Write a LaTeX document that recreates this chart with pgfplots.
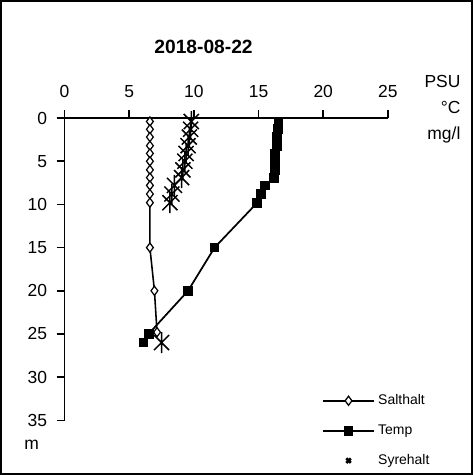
\documentclass[border=0pt]{standalone}
\usepackage{pgfplots}
\pgfplotsset{compat=1.18}
\usepackage{fontspec}
\setmainfont{Liberation Sans}
% asterisk as drawn in the reference: an X with a vertical bar
\pgfdeclareplotmark{xstar}{%
  \pgfpathmoveto{\pgfqpoint{-0.72\pgfplotmarksize}{-0.72\pgfplotmarksize}}%
  \pgfpathlineto{\pgfqpoint{0.72\pgfplotmarksize}{0.72\pgfplotmarksize}}%
  \pgfpathmoveto{\pgfqpoint{-0.72\pgfplotmarksize}{0.72\pgfplotmarksize}}%
  \pgfpathlineto{\pgfqpoint{0.72\pgfplotmarksize}{-0.72\pgfplotmarksize}}%
  \pgfpathmoveto{\pgfqpoint{0pt}{-\pgfplotmarksize}}%
  \pgfpathlineto{\pgfqpoint{0pt}{\pgfplotmarksize}}%
  \pgfusepathqstroke}
\begin{document}
\begin{tikzpicture}[x=0.58pt,y=0.58pt]
% frame (px coordinates relative to the lower-left axis corner)
\draw[line width=1.2pt] (-62.7,414) rectangle (402.3,-53);
\begin{axis}[
    at={(0,0)}, anchor=south west,
    scale only axis,
    width=185.2pt, height=173.1pt,
    xmin=0, xmax=25, ymin=0, ymax=35,
    y dir=reverse,
    axis x line*=top, axis y line*=left,
    axis line style={line width=0.9pt},
    tick style={line width=0.9pt, black},
    tick align=outside,
    major tick length=4.5pt,
    xtick={0,5,...,25}, ytick={0,5,...,35},
    xticklabel style={yshift=3.5pt},
    yticklabel style={xshift=-2pt},
    font=\fontsize{10}{12}\selectfont,
    /pgf/number format/assume math mode=true,
    clip=false,
    legend style={draw=none, fill=none, font=\fontsize{8}{10}\selectfont,
        at={(0.78,0.11)}, anchor=north west, row sep=6pt,
        legend cell align=left},
    legend image code/.code={%
        \draw[mark repeat=2,mark phase=2,#1]
        plot coordinates {(0pt,0pt) (14.5pt,0pt) (29pt,0pt)};},
]
\addplot[black, line width=0.9pt, mark=diamond*, mark size=2.6pt,
    mark options={fill=white, line width=0.7pt}] coordinates {
(6.6,0.4) (6.6,1.3) (6.6,2.2) (6.6,3.2) (6.6,4.1) (6.6,5.0)
(6.6,6.0) (6.6,6.9) (6.6,7.8) (6.6,8.8) (6.6,9.8)
(6.6,15) (6.95,20) (7.15,24.8)};
\addlegendentry{Salthalt}
\addplot[black, line width=1pt, mark=square*, mark size=2.3pt] coordinates {
(16.55,0.4) (16.5,1.3) (16.45,2.2) (16.4,3.2) (16.3,4.1) (16.25,5.0)
(16.25,6.0) (16.2,6.9) (15.5,7.8) (15.2,8.8) (14.9,9.8)
(11.6,15) (9.55,20) (6.5,25) (6.1,26)};
\addlegendentry{Temp}
\addplot[black, only marks, mark=xstar, mark size=6pt,
    mark options={line width=0.85pt},
    legend image post style={mark=x, mark size=1.8pt,
        mark options={line width=1.5pt}}]
    coordinates {
(9.8,0.4) (9.75,1.3) (9.65,2.2) (9.55,3.2) (9.4,4.1) (9.3,5.0)
(9.15,6.0) (9.05,6.9) (8.5,7.8) (8.3,8.8) (8.15,9.8) (7.5,26)};
\addlegendentry{Syrehalt}
\end{axis}
\node[font=\fontsize{11}{13}\selectfont\bfseries] at (137.3,369) {2018-08-22};
\node[anchor=east, font=\fontsize{10}{12}\selectfont] at (397,335) {PSU};
\node[anchor=east, font=\fontsize{10}{12}\selectfont] at (397,309) {°C};
\node[anchor=east, font=\fontsize{10}{12}\selectfont] at (397,282) {mg/l};
\node[anchor=west, font=\fontsize{10}{12}\selectfont] at (-45.7,-24) {m};
\end{tikzpicture}
\end{document}
